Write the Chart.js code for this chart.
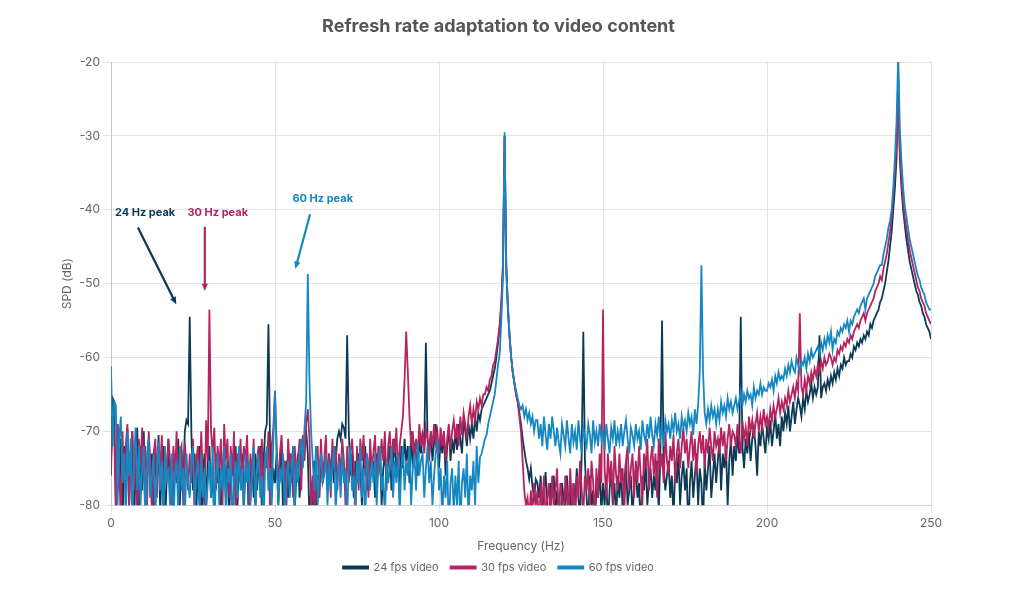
<!DOCTYPE html>
<html>
<head>
<meta charset="utf-8">
<title>Refresh rate adaptation to video content</title>
<script src="https://cdn.jsdelivr.net/npm/chart.js@4.4.1/dist/chart.umd.min.js"></script>
<style>
  body { margin: 0; background: #fff; }
  #wrap { width: 1024px; height: 590px; }
</style>
</head>
<body>
<div id="wrap"><canvas id="spdChart"></canvas></div>
<script>
// frequency bins (Hz), 0.5 Hz apart
const freqs = [
  0,0.5,1,1.5,2,2.5,3,3.5,4,4.5, 5,5.5,6,6.5,7,7.5,8,8.5,9,9.5,
  10,10.5,11,11.5,12,12.5,13,13.5,14,14.5, 15,15.5,16,16.5,17,17.5,18,18.5,19,19.5,
  20,20.5,21,21.5,22,22.5,23,23.5,24,24.5, 25,25.5,26,26.5,27,27.5,28,28.5,29,29.5,
  30,30.5,31,31.5,32,32.5,33,33.5,34,34.5, 35,35.5,36,36.5,37,37.5,38,38.5,39,39.5,
  40,40.5,41,41.5,42,42.5,43,43.5,44,44.5, 45,45.5,46,46.5,47,47.5,48,48.5,49,49.5,
  50,50.5,51,51.5,52,52.5,53,53.5,54,54.5, 55,55.5,56,56.5,57,57.5,58,58.5,59,59.5,
  60,60.5,61,61.5,62,62.5,63,63.5,64,64.5, 65,65.5,66,66.5,67,67.5,68,68.5,69,69.5,
  70,70.5,71,71.5,72,72.5,73,73.5,74,74.5, 75,75.5,76,76.5,77,77.5,78,78.5,79,79.5,
  80,80.5,81,81.5,82,82.5,83,83.5,84,84.5, 85,85.5,86,86.5,87,87.5,88,88.5,89,89.5,
  90,90.5,91,91.5,92,92.5,93,93.5,94,94.5, 95,95.5,96,96.5,97,97.5,98,98.5,99,99.5,
  100,100.5,101,101.5,102,102.5,103,103.5,104,104.5, 105,105.5,106,106.5,107,107.5,108,108.5,109,109.5,
  110,110.5,111,111.5,112,112.5,113,113.5,114,114.5, 115,115.5,116,116.5,117,117.5,118,118.5,119,119.5,
  120,120.5,121,121.5,122,122.5,123,123.5,124,124.5, 125,125.5,126,126.5,127,127.5,128,128.5,129,129.5,
  130,130.5,131,131.5,132,132.5,133,133.5,134,134.5, 135,135.5,136,136.5,137,137.5,138,138.5,139,139.5,
  140,140.5,141,141.5,142,142.5,143,143.5,144,144.5, 145,145.5,146,146.5,147,147.5,148,148.5,149,149.5,
  150,150.5,151,151.5,152,152.5,153,153.5,154,154.5, 155,155.5,156,156.5,157,157.5,158,158.5,159,159.5,
  160,160.5,161,161.5,162,162.5,163,163.5,164,164.5, 165,165.5,166,166.5,167,167.5,168,168.5,169,169.5,
  170,170.5,171,171.5,172,172.5,173,173.5,174,174.5, 175,175.5,176,176.5,177,177.5,178,178.5,179,179.5,
  180,180.5,181,181.5,182,182.5,183,183.5,184,184.5, 185,185.5,186,186.5,187,187.5,188,188.5,189,189.5,
  190,190.5,191,191.5,192,192.5,193,193.5,194,194.5, 195,195.5,196,196.5,197,197.5,198,198.5,199,199.5,
  200,200.5,201,201.5,202,202.5,203,203.5,204,204.5, 205,205.5,206,206.5,207,207.5,208,208.5,209,209.5,
  210,210.5,211,211.5,212,212.5,213,213.5,214,214.5, 215,215.5,216,216.5,217,217.5,218,218.5,219,219.5,
  220,220.5,221,221.5,222,222.5,223,223.5,224,224.5, 225,225.5,226,226.5,227,227.5,228,228.5,229,229.5,
  230,230.5,231,231.5,232,232.5,233,233.5,234,234.5, 235,235.5,236,236.5,237,237.5,238,238.5,239,239.5,
  240,240.5,241,241.5,242,242.5,243,243.5,244,244.5, 245,245.5,246,246.5,247,247.5,248,248.5,249,249.5,
  250
];

// SPD (dB), one row = 5 Hz
const spd24 = [
  -74,-65.5,-66,-82,-69,-78,-71,-84,-72,-76,
  -69.5,-80,-73,-70,-83,-75,-69.5,-81,-72,-78,
  -70,-84,-74,-71,-79,-73,-82,-72,-77,-70.5,
  -81,-74,-72,-83,-76,-71,-79,-74,-82,-73,
  -77,-71,-80,-72.5,-78,-70,-68.5,-69,-54.5,-70,
  -78,-73,-81,-75,-72,-84,-76,-73,-80,-74,
  -72,-79,-75,-83,-73,-77,-74,-80,-76,-72,
  -79,-74,-82,-75,-73,-78,-72,-81,-74,-77,
  -73,-80,-75,-72,-83,-76,-74,-79,-73,-78,
  -75,-72,-81,-74,-70,-69,-55.5,-72,-79,-75,
  -77,-73,-80,-75,-72,-82,-76,-74,-79,-73,
  -77,-74,-81,-76,-73,-79,-75,-72,-71,-70,
  -73,-82,-78,-80,-74,-81,-76,-79,-73,-77,
  -75,-72,-78,-73,-76,-72.5,-77,-74,-71,-70,
  -71,-69,-69.5,-71,-57,-70,-76,-73,-79,-74,
  -77,-73,-75,-80,-74,-72,-78,-75,-73,-76,
  -74,-79,-73,-76,-72,-80,-75,-73,-77,-74,
  -72,-78,-74,-71,-76,-73,-79,-72,-75,-71,
  -74,-72,-77,-70,-75,-72,-73,-76,-71,-73,
  -70.5,-72,-58,-71,-73,-70,-74,-71.5,-69,-72,
  -75,-71,-73,-70,-76,-72,-69.5,-74,-71,-73,
  -70,-72.5,-69,-71,-73,-68.5,-70,-72,-69,-71,
  -69,-71,-68,-70,-67.5,-68.5,-67,-66.5,-66,-65.5,
  -65,-64.5,-63.5,-62.5,-61.5,-60,-58,-56,-53,-48,
  -30,-48,-53.5,-57,-60,-62,-63.5,-65,-66,-67.5,
  -69,-71,-72.5,-74,-75,-76.5,-75,-77.5,-79,-76.5,
  -77,-79,-76,-81,-78,-75.5,-80,-83,-77,-79,
  -76,-82,-78,-80,-84,-77,-79,-81,-76,-80,
  -78,-83,-77,-80,-75,-79,-82,-73,-56.5,-74,
  -79,-82,-76,-80,-78,-84,-77,-79,-75,-81,
  -77,-80,-76,-83,-78,-75,-80,-77,-82,-76,
  -79,-75,-81,-77,-74,-80,-78,-76,-82,-77,
  -75,-79,-77,-84,-76,-78,-74,-80,-77,-75,
  -79,-76,-78,-74,-81,-73,-55,-75,-78,-76,
  -74,-79,-76,-82,-75,-77,-73,-80,-76,-74,
  -78,-75,-84,-77,-74,-79,-76,-73,-80,-75,
  -77,-83,-74,-78,-75,-72,-79,-76,-73,-77,
  -74,-71,-78,-73,-75,-72,-80,-74,-71,-76,
  -72,-74,-70.5,-73,-54.5,-72,-75,-71,-73,-70,
  -74,-71,-69.5,-72,-76,-70,-72,-69,-71,-73,
  -69.5,-71,-68.5,-72,-70,-67.5,-71,-69,-72,-68,
  -70,-67.5,-69,-66.5,-70,-68,-66,-69,-67,-65.5,
  -66.5,-68,-65.5,-67,-64.5,-66,-65,-63.5,-65.5,-64,
  -65,-64,-57,-65.5,-64,-63.5,-64.5,-63,-64,-62.5,
  -63.5,-62,-63,-61.5,-62.5,-61,-61.5,-60,-61,-60.5,
  -60.5,-59.5,-60,-58.5,-59,-58,-58.5,-57.5,-58,-57,
  -57.5,-56.5,-57,-55.5,-56,-55,-54.5,-54,-53.5,-52.5,
  -52,-51,-50,-48.5,-47,-45,-43,-40,-37,-33,
  -22,-33,-37,-40,-42,-44,-45.5,-47,-48,-49,
  -50,-51,-51.5,-52.5,-53,-54,-54.5,-55.5,-56,-56.5,
  -57.5
];

const spd30 = [
  -76,-67,-71,-80,-69,-74,-83,-70,-77,-72,
  -69,-81,-73,-70,-78,-72,-84,-71,-75,-69.5,
  -76,-72,-80,-70,-74,-82,-73,-71,-79,-72,
  -75,-70.5,-81,-73,-77,-71,-74,-83,-72,-76,
  -70,-79,-73,-72,-80,-71.5,-75,-78,-73,-77,
  -71,-82,-74,-72,-79,-70,-76,-81,-68.5,-74,
  -53.5,-70,-73,-69.5,-78,-72,-75,-71,-80,-69,
  -74,-71,-79,-72,-76,-70,-83,-73,-75,-71,
  -78,-72,-74,-70.5,-80,-73,-76,-71,-82,-74,
  -72,-77,-71,-79,-73,-75,-70,-81,-72,-69.5,
  -64.5,-72,-78,-73,-70.5,-76,-74,-80,-71,-75,
  -73,-79,-72,-76,-74,-71,-78,-70.5,-74,-69,
  -67,-71,-80,-76,-83,-74,-72,-79,-71,-76,
  -74,-70.5,-77,-73,-79,-71,-75,-72,-78,-73,
  -76,-71,-74,-80,-72,-77,-73,-71,-75,-82,
  -72,-78,-71,-74,-70.5,-76,-73,-79,-71,-75,
  -73,-70.5,-77,-72,-75,-71,-74,-70,-78,-72,
  -70,-75,-71,-73,-69.5,-76,-72,-70,-68,-63,
  -56.5,-62,-68,-72,-70,-74,-71,-73,-69,-72,
  -70,-73,-69.5,-71,-74,-70,-72,-69,-71.5,-70,
  -73,-69.5,-72,-70,-74,-71,-69,-72.5,-70,-68.5,
  -71,-69,-72,-68,-70.5,-67.5,-69,-71,-68,-66.5,
  -69,-67,-68.5,-66,-67,-65.5,-66.5,-65,-65,-64,
  -64.5,-63,-62.5,-61,-60.5,-59,-57.5,-55.5,-52.5,-47,
  -30,-47,-53,-57,-60,-62,-63.5,-65,-66,-68,
  -70,-74,-78,-80,-79,-82,-78,-81,-77,-80,
  -78,-84,-77,-80,-76,-82,-79,-77,-83,-76,
  -80,-78,-75,-82,-77,-79,-84,-76,-78,-81,
  -75,-80,-77,-83,-76,-79,-74,-78,-81,-76,
  -78,-75,-80,-74,-77,-82,-75,-79,-73,-77,
  -53.5,-75,-79,-73,-77,-74,-80,-72,-76,-78,
  -73,-77,-75,-81,-74,-72,-78,-75,-73,-79,
  -74,-77,-72,-76,-80,-73,-75,-71,-78,-74,
  -72,-76,-73,-79,-71,-75,-73,-77,-70,-74,
  -76,-72,-74,-70.5,-77,-73,-71,-75,-72,-69.5,
  -73,-71,-75,-72,-70,-74,-71,-76,-72,-70,
  -73,-70.5,-75,-71,-73,-69.5,-72,-74,-70,-72,
  -71,-73,-69.5,-72,-70,-74,-71,-69,-72,-70,
  -70.5,-72,-69,-71,-73,-68.5,-71,-69.5,-72,-68,
  -70,-68.5,-71,-69,-67.5,-70,-68,-69.5,-67,-69,
  -68,-69.5,-67,-68.5,-66.5,-68,-67,-65.5,-67.5,-66,
  -67,-65.5,-66.5,-64.5,-66,-65,-64,-65.5,-63.5,-64.5,
  -54,-64,-65,-63,-64.5,-62.5,-63.5,-62,-63,-61.5,
  -62.5,-61,-62,-60.5,-61.5,-60,-61,-60.5,-59.5,-60,
  -61,-60,-60.5,-59,-59.5,-58.5,-59,-58,-58.5,-57.5,
  -58,-57,-57.5,-56.5,-56,-55.5,-56,-55,-54.5,-54,
  -55,-54,-53.5,-53,-52.5,-52,-51,-50.5,-50,-49,
  -49.5,-48,-47,-46,-44.5,-43,-41,-38,-35,-31,
  -25,-32,-36,-39,-41,-42.5,-44,-45.5,-46.5,-47.5,
  -48.5,-49.5,-50.5,-51,-52,-52.5,-53,-54,-54.5,-55,
  -55.5
];

const spd60 = [
  -61.2,-72,-66,-66.5,-80,-71,-68,-77,-73,-82,
  -70,-76,-71,-83,-74,-69.5,-78,-72,-80,-75,
  -72,-84,-74,-71,-79,-76,-73,-82,-75,-71.5,
  -78,-74,-83,-72,-77,-75,-80,-73,-84,-76,
  -74,-81,-72,-78,-75,-83,-73,-77,-79,-74,
  -72,-80,-76,-74,-82,-73,-79,-75,-81,-77,
  -74,-79,-72,-83,-76,-73,-80,-75,-78,-72,
  -81,-75,-77,-73,-84,-76,-74,-79,-72,-78,
  -75,-82,-73,-77,-74,-80,-76,-72,-81,-75,
  -73,-79,-76,-84,-74,-72,-78,-75,-80,-71,
  -64.7,-73,-80,-75,-77,-73,-82,-76,-74,-79,
  -75,-72,-81,-74,-77,-73,-71,-75,-69.5,-66,
  -48.7,-63,-70,-74,-78,-72,-80,-75,-73,-77,
  -76,-73,-80,-74,-78,-75,-72,-81,-76,-74,
  -79,-73,-77,-75,-82,-74,-72,-78,-76,-80,
  -74,-77,-72,-79,-75,-83,-73,-76,-78,-74,
  -77,-73,-80,-75,-72,-78,-76,-82,-74,-77,
  -75,-72,-79,-74,-77,-73,-81,-75,-72,-78,
  -74,-76,-72,-80,-75,-73,-78,-71.5,-76,-74,
  -73,-79,-75,-72,-77,-74,-80,-76,-73,-71,
  -78,-75,-82,-76,-79,-74,-84,-77,-75,-81,
  -76,-80,-74,-83,-77,-75,-79,-73,-82,-76,
  -78,-74,-80,-72,-77,-73.5,-73,-72,-71,-70.5,
  -69,-68,-67,-66,-65,-63,-61,-59.5,-55,-49,
  -29.5,-48,-53,-57,-60,-62,-63.5,-64.5,-65.5,-66.5,
  -67,-66.5,-68,-67,-68.5,-67.5,-69,-68,-70,-68.5,
  -68.5,-71,-69,-72,-68,-70.5,-72.5,-69,-71,-68,
  -70,-72,-69.5,-71.5,-73,-69,-70.5,-72,-68.5,-71,
  -73,-69,-71.5,-70,-72.5,-68.5,-71,-73,-69.5,-71,
  -72,-69,-70.5,-73,-68.5,-71.5,-70,-72,-69,-71,
  -70,-72.5,-69,-71,-73,-69.5,-71,-68.5,-72,-70,
  -71.5,-69,-72,-70,-68.5,-71,-73,-69.5,-70.5,-72,
  -69,-71,-70,-72.5,-68.5,-70.5,-71.5,-69,-71,-68,
  -70.5,-72,-69,-70.5,-68,-71,-69.5,-72,-68.5,-70,
  -69,-71,-68.5,-70,-67.5,-70,-69,-71,-68,-69.5,
  -68.5,-70,-67.5,-69,-68,-70.5,-67,-69,-66.5,-62,
  -47.5,-62,-67.5,-69,-67,-68.5,-66.5,-68,-67,-69,
  -67,-68.5,-66,-67.5,-66.5,-68,-65.5,-67,-66,-67.5,
  -66.5,-65.5,-67,-66,-64.5,-66.5,-65,-66,-64.5,-65.5,
  -65,-66.5,-64,-65.5,-64.5,-65,-63.5,-65,-64,-64.5,
  -64.5,-63.5,-64,-63,-64.5,-62.5,-63.5,-62,-63,-62.5,
  -63,-61.5,-62.5,-61,-62,-60.5,-61.5,-62,-60,-61,
  -62,-60.5,-61,-60,-61.5,-59.5,-60.5,-59,-60,-59.5,
  -59,-58.5,-59.5,-58,-59,-57.5,-58.5,-57,-58,-56.5,
  -59,-57.5,-58,-56.5,-57,-56,-56.5,-55.5,-56,-55,
  -56.5,-55,-55.5,-54.5,-54,-53.5,-54,-53,-52.5,-52,
  -53.5,-52,-51.5,-51,-50.5,-50,-49,-48.5,-48,-47.5,
  -47.5,-46,-45,-44,-42.5,-41.5,-40,-37,-33,-28,
  -19,-29,-33.5,-37,-39.5,-41,-42.5,-44,-45,-46,
  -47,-48,-49,-49.5,-50.5,-51,-51.5,-52.5,-53,-53.5,
  -53.5
];

const seriesNames = ['24 fps video', '30 fps video', '60 fps video'];
const seriesColors = ['#0c3a56', '#b5245f', '#1787c1'];

// peak callouts, in chart units (Hz, dB)
const noteText = ['24 Hz peak', '30 Hz peak', '60 Hz peak'];
const noteAt = [[1.2, -40.4], [23.3, -40.4], [55.3, -38.5]];
const arrowFrom = [[8.2, -42.4], [28.6, -42.3], [60.7, -40.6]];
const arrowTo = [[19.9, -52.8], [28.6, -51.0], [56.2, -48.0]];

function toPoints(values) {
    return values.map((v, i) => ({ x: freqs[i], y: v }));
}

const peakNotes = {
    id: 'peakNotes',
    afterDatasetsDraw(chart) {
        const { ctx, scales: { x, y } } = chart;
        ctx.save();
        noteText.forEach((txt, i) => {
            const col = seriesColors[i];
            ctx.fillStyle = col;
            ctx.strokeStyle = col;
            ctx.font = 'bold 11px Inter, "Noto Sans", sans-serif';
            ctx.textBaseline = 'middle';
            ctx.textAlign = 'left';
            ctx.fillText(txt, x.getPixelForValue(noteAt[i][0]), y.getPixelForValue(noteAt[i][1]));

            const x0 = x.getPixelForValue(arrowFrom[i][0]), y0 = y.getPixelForValue(arrowFrom[i][1]);
            const x1 = x.getPixelForValue(arrowTo[i][0]), y1 = y.getPixelForValue(arrowTo[i][1]);
            const ang = Math.atan2(y1 - y0, x1 - x0);
            const head = 8;
            ctx.lineWidth = 2.2;
            ctx.beginPath();
            ctx.moveTo(x0, y0);
            ctx.lineTo(x1 - Math.cos(ang) * head * 0.6, y1 - Math.sin(ang) * head * 0.6);
            ctx.stroke();
            ctx.beginPath();
            ctx.moveTo(x1, y1);
            ctx.lineTo(x1 - head * Math.cos(ang - 0.4), y1 - head * Math.sin(ang - 0.4));
            ctx.lineTo(x1 - head * Math.cos(ang + 0.4), y1 - head * Math.sin(ang + 0.4));
            ctx.closePath();
            ctx.fill();
        });
        ctx.restore();
    }
};

Chart.defaults.font.family = 'Inter, "Noto Sans", sans-serif';
Chart.defaults.color = '#666';

const ctx = document.getElementById('spdChart').getContext('2d');
const chart = new Chart(ctx, {
    type: 'line',
    data: {
        datasets: [spd24, spd30, spd60].map((vals, i) => ({
            label: seriesNames[i],
            data: toPoints(vals),
            borderColor: seriesColors[i],
            backgroundColor: seriesColors[i],
            borderWidth: 1.8,
            pointRadius: 0,
            tension: 0,
            order: 2 - i
        }))
    },
    options: {
        responsive: true,
        maintainAspectRatio: false,
        animation: false,
        layout: { padding: { left: 66, right: 93, top: 0, bottom: 7 } },
        plugins: {
            title: {
                display: true,
                text: 'Refresh rate adaptation to video content',
                color: '#555',
                font: { size: 18, weight: 'bold' },
                padding: { top: 16, bottom: 24.5 }
            },
            legend: {
                position: 'bottom',
                labels: {
                    boxWidth: 25,
                    boxHeight: 2,
                    padding: 12,
                    font: { size: 11 },
                    color: '#666',
                    sort: (a, b) => a.datasetIndex - b.datasetIndex
                }
            },
            tooltip: { enabled: false }
        },
        scales: {
            x: {
                type: 'linear',
                min: 0,
                max: 250,
                ticks: { stepSize: 50, font: { size: 12 }, color: '#666' },
                grid: { color: '#e3e3e3' },
                border: { color: '#d0d0d0' },
                title: { display: true, text: 'Frequency (Hz)', font: { size: 12 }, color: '#666', padding: { top: 6, bottom: -4 } }
            },
            y: {
                min: -80,
                max: -20,
                afterFit: (scale) => { scale.width = 45; },
                ticks: { stepSize: 10, font: { size: 12 }, color: '#666' },
                grid: { color: '#e3e3e3' },
                border: { color: '#c8c8c8' },
                title: { display: true, text: 'SPD (dB)', font: { size: 12 }, color: '#666', padding: { top: -6 } }
            }
        }
    },
    plugins: [peakNotes]
});
</script>
</body>
</html>
